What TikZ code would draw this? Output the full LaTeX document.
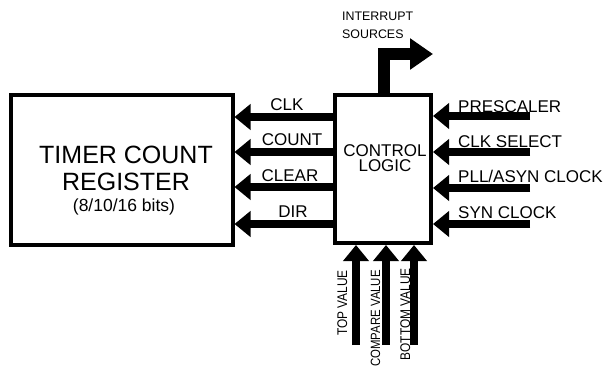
\documentclass[tikz,border=0pt]{standalone}
\usepackage{fontspec}
\setmainfont{Liberation Sans}
\newfontfamily\narrowsans[FakeStretch=0.85]{Liberation Sans}
\usetikzlibrary{arrows.meta}

\tikzset{
  block/.style={draw, line width=4pt, rectangle, inner sep=0pt},
  sig/.style={line width=8pt, -{Triangle[length=16pt,width=25pt]}},
  irq/.style={line width=12pt, line join=miter, -{Triangle[length=23pt,width=30pt]}},
  lbl/.style={font=\fontsize{17}{20}\selectfont, inner sep=0pt, anchor=base},
  rlbl/.style={lbl, anchor=base west},
  big/.style={font=\fontsize{25}{30}\selectfont, inner sep=0pt, anchor=base},
  small/.style={font=\fontsize{12.4}{15}\selectfont, inner sep=0pt, anchor=base west},
  vlbl/.style={font=\narrowsans\fontsize{14}{16}\selectfont, inner sep=0pt, rotate=90, anchor=base east},
}

\begin{document}
\begin{tikzpicture}[x=1pt, y=-1pt]
  \useasboundingbox[fill=white] (0,0) rectangle (609,372);

  % the two blocks
  \node[block, minimum width=222pt, minimum height=150pt] (timer) at (121.5,169.5) {};
  \node[block, minimum width=96.5pt, minimum height=148pt] (ctl) at (382.75,169) {};

  % timer block text
  \node[big] (t1) at (126,163) {TIMER COUNT};
  \node[big] (t2) at (126,190) {REGISTER};
  \node[lbl, font=\fontsize{17.5}{20}\selectfont] (t3) at (124,211) {(8/10/16 bits)};

  % control block text
  \node[lbl] (c1) at (385,156) {CONTROL};
  \node[lbl] (c2) at (385,171.5) {LOGIC};

  % signal rows
  \coordinate (l1) at (0,117);
  \coordinate (l2) at (0,152);
  \coordinate (l3) at (0,187);
  \coordinate (l4) at (0,224);
  \coordinate (r1) at (530,116);
  \coordinate (r2) at (530,152);
  \coordinate (r3) at (530,188);
  \coordinate (r4) at (530,224);

  % outputs to the timer register
  \draw[sig] (ctl.west |- l1) -- (timer.east |- l1);
  \draw[sig] (ctl.west |- l2) -- (timer.east |- l2);
  \draw[sig] (ctl.west |- l3) -- (timer.east |- l3);
  \draw[sig] (ctl.west |- l4) -- (timer.east |- l4);
  \node[lbl] (o1) at (287,110.7) {CLK};
  \node[lbl] (o2) at (292,145) {COUNT};
  \node[lbl] (o3) at (290,181.5) {CLEAR};
  \node[lbl] (o4) at (293,217.3) {DIR};

  % inputs from the right
  \draw[sig] (r1) -- (ctl.east |- r1);
  \draw[sig] (r2) -- (ctl.east |- r2);
  \draw[sig] (r3) -- (ctl.east |- r3);
  \draw[sig] (r4) -- (ctl.east |- r4);
  \node[rlbl] (i1) at (458,112) {PRESCALER};
  \node[rlbl] (i2) at (458,147.5) {CLK SELECT};
  \node[rlbl] (i3) at (458,182.5) {PLL/ASYN CLOCK};
  \node[rlbl] (i4) at (458,218.5) {SYN CLOCK};

  % inputs from below
  \coordinate (b1) at (356,345);
  \coordinate (b2) at (386,345);
  \coordinate (b3) at (414,345);
  \draw[sig] (b1) -- (ctl.south -| b1);
  \draw[sig] (b2) -- (ctl.south -| b2);
  \draw[sig] (b3) -- (ctl.south -| b3);
  \node[vlbl] (v1) at (347,270) {TOP VALUE};
  \node[vlbl, font=\narrowsans\fontsize{13.4}{16}\selectfont] (v2) at (380,270) {COMPARE VALUE};
  \node[vlbl] (v3) at (410,268) {BOTTOM VALUE};

  % interrupt output
  \coordinate (irqbase) at (384,0);
  \coordinate (irqtip) at (433,54);
  \draw[irq] (ctl.north -| irqbase) |- (irqtip);
  \node[small] (s1) at (342,20.7) {INTERRUPT};
  \node[small] (s2) at (342,38.3) {SOURCES};
\end{tikzpicture}
\end{document}
